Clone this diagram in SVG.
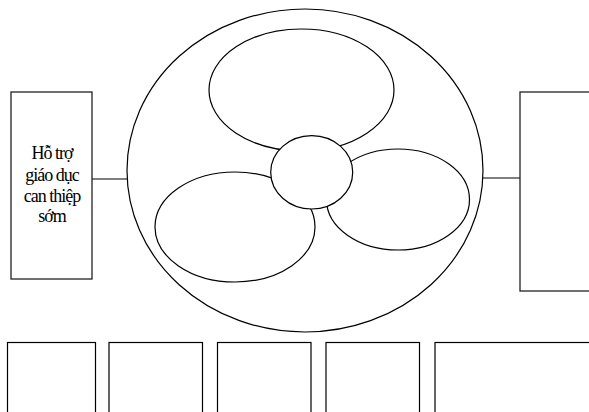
<svg xmlns="http://www.w3.org/2000/svg" width="589" height="412" viewBox="0 0 589 412">
<style>
.s{fill:#fff;stroke:#000;stroke-width:1.2}
.b{fill:#fff;stroke:#222;stroke-width:1.3}
.c{stroke:#000;stroke-width:1.2;fill:none}
.t{font-size:18px;letter-spacing:-1px;fill:#000;text-anchor:middle}
</style>
<rect width="589" height="412" fill="#fff"/>
<g id="connectors">
<line class="c" x1="92" y1="179" x2="128" y2="179"/>
<line class="c" x1="483" y1="178" x2="520" y2="178"/>
</g>
<g id="fan">
<ellipse class="s" cx="305" cy="170.5" rx="178" ry="161.5"/>
<ellipse class="s" cx="301.5" cy="90" rx="92.5" ry="61"/>
<ellipse class="s" cx="398" cy="199.5" rx="71.5" ry="50.5"/>
<ellipse class="s" cx="235" cy="227" rx="80" ry="55"/>
<ellipse class="s" cx="311.7" cy="172.3" rx="41" ry="36.7"/>
</g>
<g id="left-box">
<rect class="b" x="11" y="92" width="81" height="187"/>
<g font-family="'Liberation Serif', 'Times New Roman', serif">
<text class="t" x="52" y="159">Hỗ trợ</text>
<text class="t" x="52" y="181">giáo dục</text>
<text class="t" x="52" y="202">can thiệp</text>
<text class="t" x="52" y="222">sớm</text>
</g>
</g>
<g id="right-box">
<rect class="b" x="520" y="92" width="80" height="199"/>
</g>
<g id="box1"><rect class="s" x="7.5" y="342.5" width="88" height="80"/></g>
<g id="box2"><rect class="s" x="109" y="342.5" width="93.5" height="80"/></g>
<g id="box3"><rect class="s" x="217.5" y="342.5" width="93.5" height="80"/></g>
<g id="box4"><rect class="s" x="326" y="342.5" width="93.5" height="80"/></g>
<g id="box5"><rect class="s" x="435" y="342.5" width="170" height="80"/></g>
</svg>
